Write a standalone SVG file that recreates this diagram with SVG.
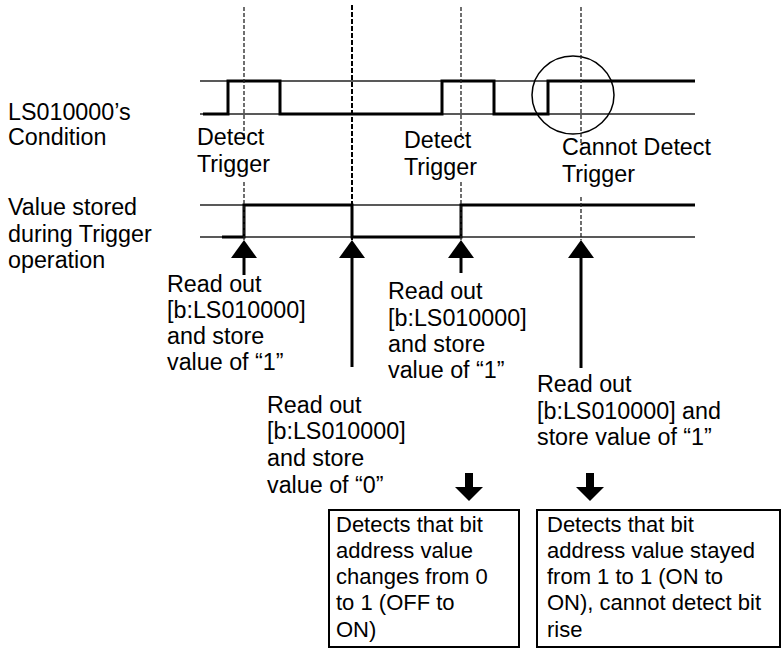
<svg xmlns="http://www.w3.org/2000/svg" width="784" height="649" viewBox="0 0 784 649">
<style>
text{font-family:"Liberation Sans",Arial,sans-serif;font-size:23.3px;fill:#000}
.bt{font-size:22px}
.rail{stroke:#222;stroke-width:1.3;fill:none}
.sig{stroke:#000;stroke-width:3;fill:none;stroke-linejoin:miter}
.dash{stroke:#222;stroke-width:1.3;stroke-dasharray:4 2;fill:none}
.dash2{stroke:#000;stroke-width:2;stroke-dasharray:5 2;fill:none}
.shaft{stroke:#000;stroke-width:3;fill:none}
.box{fill:#fff;stroke:#000;stroke-width:2}
</style>
<rect width="784" height="649" fill="#fff"/>
<g id="labels">
<text x="8" y="120">LS010000’s</text>
<text x="8" y="145">Condition</text>
<text x="8" y="215">Value stored</text>
<text x="8" y="242">during Trigger</text>
<text x="8" y="268">operation</text>
</g>
<g id="timing">
<line class="rail" x1="200" y1="81" x2="695" y2="81"/>
<line class="rail" x1="200" y1="114" x2="695" y2="114"/>
<line class="rail" x1="200" y1="205" x2="695" y2="205"/>
<line class="rail" x1="200" y1="237" x2="695" y2="237"/>
<polyline class="sig" points="203,114 228,114 228,81 280,81 280,114 442,114 442,81 494,81 494,114 548,114 548,81 695,81"/>
<polyline class="sig" points="222,237 244,237 244,205 352,205 352,237 461,237 461,205 695,205"/>
<ellipse cx="573" cy="95" rx="41" ry="39" fill="none" stroke="#000" stroke-width="1.5"/>
</g>
<g id="guides">
<line class="dash" x1="244" y1="7" x2="244" y2="140"/>
<line class="dash" x1="244" y1="182" x2="244" y2="240"/>
<line class="dash2" x1="352" y1="5" x2="352" y2="240"/>
<line class="dash" x1="461" y1="7" x2="461" y2="140"/>
<line class="dash" x1="461" y1="182" x2="461" y2="240"/>
<line class="dash" x1="581" y1="7" x2="581" y2="143"/>
<line class="dash" x1="581" y1="197" x2="581" y2="240"/>
</g>
<g id="trigger-labels">
<text x="197" y="145">Detect</text>
<text x="197" y="172">Trigger</text>
<text x="404" y="148">Detect</text>
<text x="404" y="175">Trigger</text>
<text x="562" y="155">Cannot Detect</text>
<text x="562" y="182">Trigger</text>
</g>
<g id="connectors">
<line class="shaft" x1="244" y1="255" x2="244" y2="275"/>
<polygon points="244,240 231,258 257,258"/>
<line class="shaft" x1="352" y1="255" x2="352" y2="367" stroke-width="4.5"/>
<polygon points="352,240 339,258 365,258"/>
<line class="shaft" x1="461" y1="255" x2="461" y2="273"/>
<polygon points="461,240 448,258 474,258"/>
<line class="shaft" x1="581" y1="255" x2="581" y2="368"/>
<polygon points="581,240 568,258 594,258"/>
<rect x="465" y="473" width="8" height="15"/>
<polygon points="455,487 483,487 469,501"/>
<rect x="586" y="473" width="8" height="15"/>
<polygon points="576,487 604,487 590,501"/>
</g>
<g id="read1">
<text x="167" y="292">Read out</text>
<text x="167" y="318">[b:LS010000]</text>
<text x="167" y="344">and store</text>
<text x="167" y="370">value of “1”</text>
</g>
<g id="read2">
<text x="267" y="413">Read out</text>
<text x="267" y="439">[b:LS010000]</text>
<text x="267" y="466">and store</text>
<text x="267" y="493">value of “0”</text>
</g>
<g id="read3">
<text x="388" y="299">Read out</text>
<text x="388" y="326">[b:LS010000]</text>
<text x="388" y="352">and store</text>
<text x="388" y="378">value of “1”</text>
</g>
<g id="read4">
<text x="537" y="392">Read out</text>
<text x="537" y="419">[b:LS010000] and</text>
<text x="537" y="445">store value of “1”</text>
</g>
<g id="box1">
<rect class="box" x="329" y="510" width="190" height="137"/>
<text class="bt" x="336" y="532">Detects that bit</text>
<text class="bt" x="336" y="558">address value</text>
<text class="bt" x="336" y="584">changes from 0</text>
<text class="bt" x="336" y="610">to 1 (OFF to</text>
<text class="bt" x="336" y="637">ON)</text>
</g>
<g id="box2">
<rect class="box" x="537" y="510" width="243" height="137"/>
<text class="bt" x="547" y="532">Detects that bit</text>
<text class="bt" x="547" y="558">address value stayed</text>
<text class="bt" x="547" y="584">from 1 to 1 (ON to</text>
<text class="bt" x="547" y="610">ON), cannot detect bit</text>
<text class="bt" x="547" y="637">rise</text>
</g>
</svg>
